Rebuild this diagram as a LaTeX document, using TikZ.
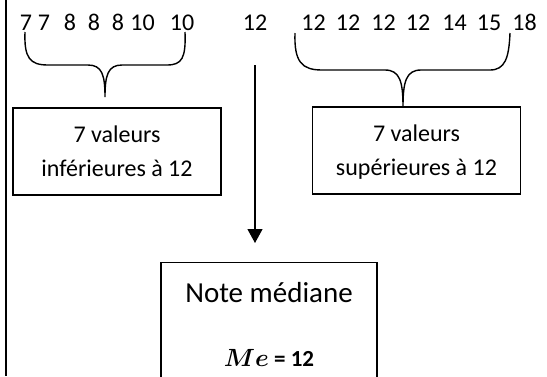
\documentclass[tikz,border=0pt]{standalone}
\usepackage{amsmath,amssymb}
\usepackage{fontspec}
\setmainfont{Carlito}
\usepackage{tikz}
\usetikzlibrary{arrows.meta,positioning}
\tikzset{
  val/.style={anchor=base, inner sep=0pt, font=\fontsize{24}{29}\selectfont},
  group/.style={rectangle, draw=black, line width=1.2pt, minimum width=208pt,
                minimum height=87pt, align=center, text depth=0pt,
                font=\fontsize{24}{34}\selectfont},
  result/.style={rectangle, draw=black, line width=1.2pt, minimum width=216pt,
                 minimum height=150pt, anchor=north},
  brace/.style={draw=black, line width=1.4pt},
  arrow/.style={-{Triangle[length=14pt,width=15pt]}, line width=1.2pt, black},
}

\begin{document}
\begin{tikzpicture}[x=1pt,y=-1pt]
  \path[use as bounding box] (0,0) rectangle (547,376);
  \clip (0,0) rectangle (547,376);
  % series of marks
  \foreach \v/\x [count=\i] in {7/26,7/44,8/70,8/94,8/118,10/142.5,10/182}
    \node[val] (low\i) at (\x,30) {\v};
  \node[val] (mid12) at (255,30) {12};
  \foreach \v/\x [count=\i] in {12/313.5,12/348,12/383.5,12/418,14/454.5,15/489,18/524.5}
    \node[val] (up\i) at (\x,30) {\v};
  % braces
  \draw[brace] (25,32) .. controls (24,58) and (30,65) .. (48,65) -- (88,65)
    .. controls (102,65) and (105,75) .. (105,97)
    .. controls (105,75) and (108,65) .. (122,65) -- (167,65)
    .. controls (182,65) and (186,58) .. (185,32);
  \draw[brace] (295,33) .. controls (294,62) and (302,70) .. (322,70) -- (385,70)
    .. controls (400,70) and (403,82) .. (403,107)
    .. controls (403,82) and (406,70) .. (421,70) -- (490,70)
    .. controls (505,70) and (509,58) .. (510,33);
  % boxes
  \node[group] (lower) at (117,151.5) {7 valeurs\\inférieures à 12};
  \node[group] (upper) at (416.5,150.5) {7 valeurs\\supérieures à 12};
  \node[result] (med) at (269,262) {};
  \node[anchor=base, font=\fontsize{29}{34}\selectfont] (medtitle) at (269,302) {Note médiane};
  \node[anchor=base, font=\fontsize{23}{28}\selectfont] (medvalue) at (269,366)
    {$\boldsymbol{Me}$ \textbf{= 12}};
  \draw[arrow] ([yshift=-35pt]mid12.base) -- ([yshift=19pt]mid12.base |- med.north);
  % left margin rule
  \draw[line width=2pt] (6,0) -- (6,376);
\end{tikzpicture}
\end{document}
